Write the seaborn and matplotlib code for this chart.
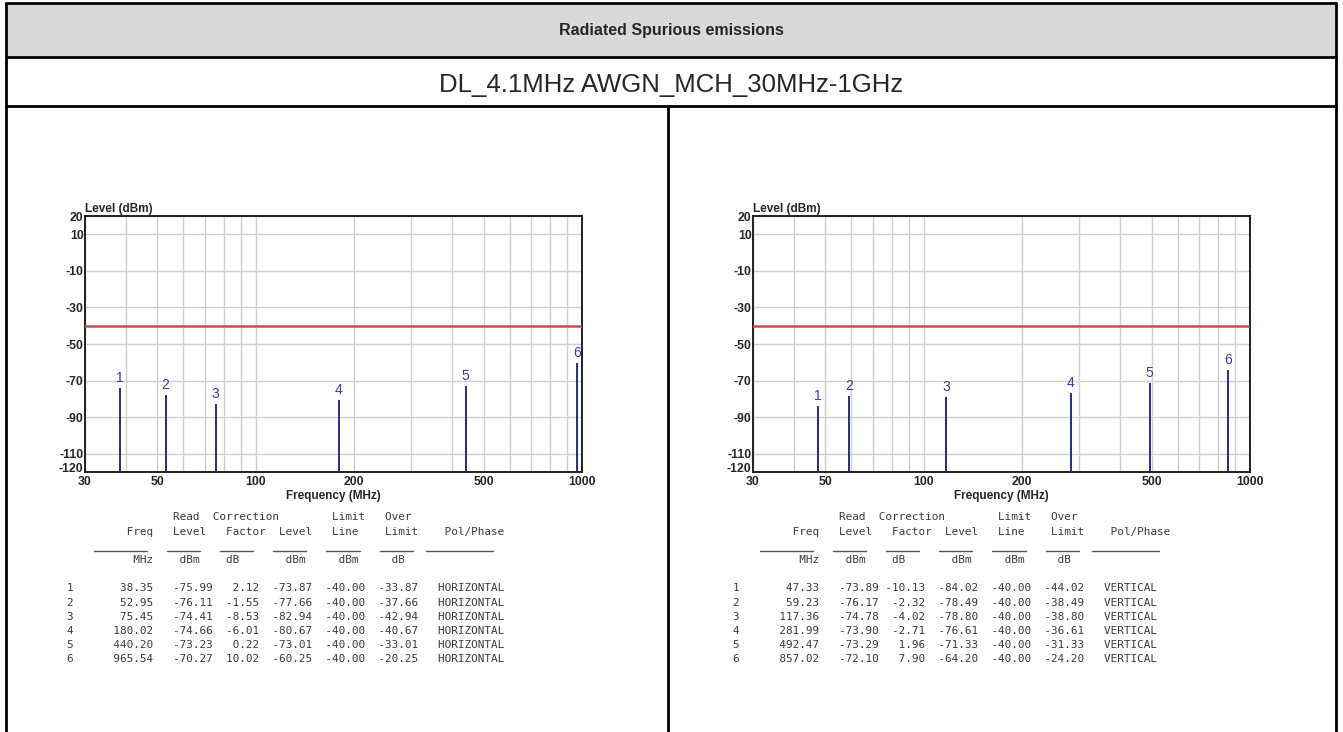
import numpy as np
import pandas as pd
import matplotlib
matplotlib.use("Agg")
import matplotlib.pyplot as plt
import seaborn as sns
from matplotlib.patches import Rectangle
from matplotlib.lines import Line2D

# Figure size in pixels (dpi 100)
W, H = 1343, 732

TITLE = "Radiated Spurious emissions"
SUBTITLE = "DL_4.1MHz AWGN_MCH_30MHz-1GHz"

LIMIT_DBM = -40.0
X_RANGE = [30, 1000]
Y_RANGE = [-120, 20]
y_ticks = [20, 10, -10, -30, -50, -70, -90, -110, -120]
x_ticks = [30, 50, 100, 200, 500, 1000]
x_minor = [40, 60, 70, 80, 90, 300, 400, 600, 700, 800, 900]

# Horizontal polarisation (left panel)
h_freq = [38.35, 52.95, 75.45, 180.02, 440.20, 965.54]
h_read = [-75.99, -76.11, -74.41, -74.66, -73.23, -70.27]
h_corr = [2.12, -1.55, -8.53, -6.01, 0.22, 10.02]
h_level = [-73.87, -77.66, -82.94, -80.67, -73.01, -60.25]
h_over = [-33.87, -37.66, -42.94, -40.67, -33.01, -20.25]

# Vertical polarisation (right panel)
v_freq = [47.33, 59.23, 117.36, 281.99, 492.47, 857.02]
v_read = [-73.89, -76.17, -74.78, -73.90, -73.29, -72.10]
v_corr = [-10.13, -2.32, -4.02, -2.71, 1.96, 7.90]
v_level = [-84.02, -78.49, -78.80, -76.61, -71.33, -64.20]
v_over = [-44.02, -38.49, -38.80, -36.61, -31.33, -24.20]

LINE_COLOR = "#1c1c6e"
LABEL_COLOR = "#3a3aa0"
LIMIT_COLOR = "#c0504d"
GRID_COLOR = "#cfcfcf"
TABLE_COLOR = "#3a3a3a"

sns.set_style("white")
plt.rcParams["font.family"] = ["Liberation Sans", "DejaVu Sans"]

fig = plt.figure(figsize=(W / 100, H / 100), dpi=100)


def fx(px):
    return px / W


def fy(py):
    return 1 - py / H


def draw_chart(left_px, freq, level):
    ax = fig.add_axes([fx(left_px), fy(472), 497 / W, 256 / H])
    df = pd.DataFrame({"freq": freq, "level": level})
    limit = pd.DataFrame({"freq": X_RANGE, "level": [LIMIT_DBM, LIMIT_DBM]})

    sns.lineplot(data=limit, x="freq", y="level", color=LIMIT_COLOR, lw=1.8, ax=ax, zorder=3)
    ax.vlines(df["freq"], Y_RANGE[0], df["level"], color=LINE_COLOR, lw=1.3, zorder=4)
    for i, (f, lv) in enumerate(zip(freq, level), start=1):
        ax.annotate(str(i), (f, lv), xytext=(0, 2),
                    textcoords="offset points", ha="center", va="bottom",
                    color=LABEL_COLOR, fontsize=10)

    ax.set_xscale("log")
    ax.set_xlim(X_RANGE)
    ax.set_ylim(Y_RANGE)
    ax.set_xticks(x_ticks)
    ax.set_xticklabels([str(t) for t in x_ticks])
    ax.set_xticks(x_minor, minor=True)
    ax.set_xticklabels([], minor=True)
    ax.set_yticks(y_ticks)
    ax.set_yticklabels([str(t) for t in y_ticks])
    ax.grid(True, which="both", color=GRID_COLOR, lw=1)
    ax.tick_params(axis="both", which="both", length=0, labelsize=8.8)
    ax.tick_params(axis="y", pad=1)
    ax.tick_params(axis="x", pad=3)
    for lab in ax.get_xticklabels() + ax.get_yticklabels():
        lab.set_fontweight("bold")
    # bottom y label sits on the baseline so it clears the "30" below it
    ax.get_yticklabels()[-1].set_va("baseline")
    for s in ax.spines.values():
        s.set_color("#111111")
        s.set_linewidth(1.3)
    ax.set_xlabel("Frequency (MHz)", fontsize=8.5, fontweight="bold", labelpad=1)
    ax.set_ylabel("")
    ax.text(0, 1.005, "Level (dBm)", transform=ax.transAxes, ha="left", va="bottom",
            fontsize=8.5, fontweight="bold")
    return ax


def put(line, col, text):
    line = line.ljust(col)
    return line[:col] + text + line[col + len(text):]


def draw_table(x0, freq, read, corr, level, over, pol):
    cw = 6.65
    mono = dict(family="DejaVu Sans Mono", fontsize=7.95, color=TABLE_COLOR, va="center", ha="left")
    head_a = ""
    for c, t in [(16, "Read"), (22, "Correction"), (40, "Limit"), (48, "Over")]:
        head_a = put(head_a, c, t)
    head_b = ""
    for c, t in [(9, "Freq"), (16, "Level"), (24, "Factor"), (32, "Level"),
                 (40, "Line"), (48, "Limit"), (57, "Pol/Phase")]:
        head_b = put(head_b, c, t)
    units = ""
    for c, t in [(10, "MHz"), (17, "dBm"), (24, "dB"), (33, "dBm"), (41, "dBm"), (49, "dB")]:
        units = put(units, c, t)
    fig.text(fx(x0), fy(517), head_a, **mono)
    fig.text(fx(x0), fy(532), head_b, **mono)
    for c, n in [(4, 8), (15, 5), (23, 5), (31, 5), (39, 5), (47, 5), (54, 10)]:
        fig.add_artist(Line2D([fx(x0 + c * cw), fx(x0 + (c + n) * cw)], [fy(551), fy(551)],
                              color="#555555", lw=1))
    fig.text(fx(x0), fy(560), units, **mono)
    for i in range(len(freq)):
        row = (f"{i + 1:<1}{freq[i]:>12.2f}{read[i]:>9.2f}{corr[i]:>7.2f}"
               f"{level[i]:>8.2f}{LIMIT_DBM:>8.2f}{over[i]:>8.2f}   {pol}")
        fig.text(fx(x0), fy(588.3 + i * 14.2), row, **mono)


# Document table frame
fig.add_artist(Rectangle((fx(6), fy(57)), fx(1336) - fx(6), fy(3) - fy(57),
                         facecolor="#d9d9d9", edgecolor="none"))
frame_kw = dict(color="black", lw=2)
fig.add_artist(Line2D([fx(6), fx(6)], [fy(3), 0], **frame_kw))
fig.add_artist(Line2D([fx(1336), fx(1336)], [fy(3), 0], **frame_kw))
fig.add_artist(Line2D([fx(6), fx(1336)], [fy(3), fy(3)], **frame_kw))
fig.add_artist(Line2D([fx(6), fx(1336)], [fy(57), fy(57)], **frame_kw))
fig.add_artist(Line2D([fx(6), fx(1336)], [fy(106), fy(106)], **frame_kw))
fig.add_artist(Line2D([fx(668), fx(668)], [fy(106), 0], **frame_kw))

fig.text(0.5, fy(30), TITLE, ha="center", va="center", fontsize=11.5, fontweight="bold")
fig.text(0.5, fy(92), SUBTITLE, ha="center", va="baseline", fontsize=18.5)

draw_chart(85, h_freq, h_level)
draw_chart(753, v_freq, v_level)
draw_table(67, h_freq, h_read, h_corr, h_level, h_over, "HORIZONTAL")
draw_table(733, v_freq, v_read, v_corr, v_level, v_over, "VERTICAL")

fig.savefig("out.png", dpi=100)
